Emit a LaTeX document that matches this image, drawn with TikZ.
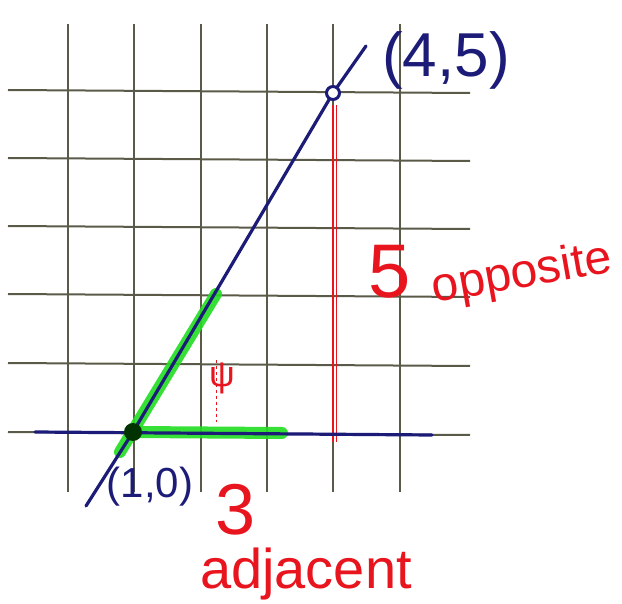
\documentclass[tikz,border=0pt]{standalone}
\usepackage{fontspec}
\setmainfont{Liberation Sans}
\definecolor{gridc}{HTML}{5B5A48}
\definecolor{penblue}{HTML}{1C1C78}
\definecolor{penred}{HTML}{E8141E}
\definecolor{hilite}{HTML}{22DD22}
\begin{document}
\begin{tikzpicture}[x=1pt,y=-1pt,
  gridline/.style={draw=gridc,line width=2pt},
  blueline/.style={draw=penblue,line width=3.2pt,line cap=round},
  greenmark/.style={draw=hilite,line width=12pt,line cap=round,opacity=0.9},
  redline/.style={draw=penred,line width=2pt},
  bluelabel/.style={text=penblue,inner sep=0pt},
  redlabel/.style={text=penred,inner sep=0pt}]
\useasboundingbox (0,0) rectangle (622,604);
\fill[white] (0,0) rectangle (622,604);
% grid
\foreach \gx in {68,134,201,267,333,400} {\draw[gridline] (\gx,24) -- (\gx,492);}
\foreach \gy in {90,158,226,294,363,432} {\draw[gridline] (8,\gy) -- (470,\gy+3);}
% coordinates
\coordinate (v) at (133,432);
\coordinate (p) at (333,93);
\coordinate (topend) at (366,46);
\coordinate (botend) at (86,506);
\coordinate (baseL) at (35,432);
\coordinate (baseR) at (432,435);
\coordinate (g1) at (120,452);
\coordinate (g2) at (216,294);
\coordinate (g3) at (282,433);
\coordinate (r1) at (333,105);
\coordinate (r2) at (333,442);
\coordinate (d1) at (216,360);
\coordinate (d2) at (216,422);
% highlighter
\draw[greenmark] (g1) -- (g2);
\draw[greenmark] (v) -- (g3);
% red opposite side
\draw[redline] (r1) -- (r2);
\draw[redline,line width=1pt] ([xshift=3pt]r1) -- ([xshift=3pt]r2);
\draw[redline,line width=1pt,dashed] (d1) -- (d2);
% blue lines
\draw[blueline] (baseL) -- (baseR);
\draw[blueline] (botend) -- (v) -- (p) -- (topend);
% points
\node[circle,fill=black!80!green,minimum size=18pt,inner sep=0pt] (vdot) at (v) {};
\node[circle,draw=penblue,line width=3pt,fill=white,minimum size=13pt,inner sep=0pt] (pdot) at (p) {};
% labels
\node[bluelabel,font=\fontsize{62}{62}\selectfont] (lp) at (446,60) {(4,5)};
\node[bluelabel,font=\fontsize{42}{42}\selectfont] (lv) at (150,487) {(1,0)};
\node[redlabel,font=\fontsize{36}{36}\selectfont] (psi) at (222,378) {ψ};
\node[redlabel,font=\fontsize{76}{76}\selectfont] (five) at (390,272) {5};
\node[redlabel,font=\fontsize{48}{48}\selectfont,rotate=10] (opp) at (522,275) {opposite};
\node[redlabel,font=\fontsize{72}{72}\selectfont] (three) at (236,510) {3};
\node[redlabel,font=\fontsize{56}{56}\selectfont] (adj) at (306,574) {adjacent};
\end{tikzpicture}
\end{document}
